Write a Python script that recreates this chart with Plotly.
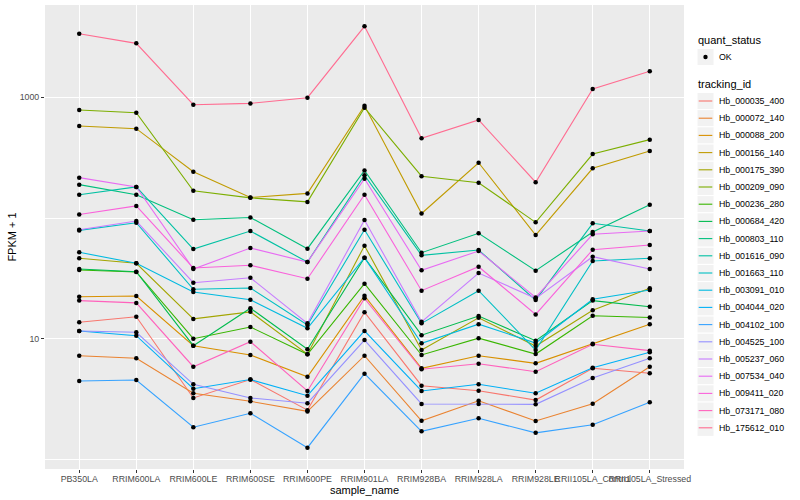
import plotly.graph_objects as go

samples = ["PB350LA", "RRIM600LA", "RRIM600LE", "RRIM600SE", "RRIM600PE", "RRIM901LA",
           "RRIM928BA", "RRIM928LA", "RRIM928LE", "RRII105LA_Control", "RRII105LA_Stressed"]

tracking_ids = ["Hb_000035_400", "Hb_000072_140", "Hb_000088_200", "Hb_000156_140", "Hb_000175_390",
                "Hb_000209_090", "Hb_000236_280", "Hb_000684_420", "Hb_000803_110", "Hb_001616_090",
                "Hb_001663_110", "Hb_003091_010", "Hb_004044_020", "Hb_004102_100", "Hb_004525_100",
                "Hb_005237_060", "Hb_007534_040", "Hb_009411_020", "Hb_073171_080", "Hb_175612_010"]

colors = ["#F8766D", "#EA8331", "#D89000", "#C09B00", "#A3A500", "#7CAE00", "#39B600", "#00BB4E",
          "#00BF7D", "#00C1A3", "#00BFC4", "#00BAE0", "#00B0F6", "#35A2FF", "#9590FF", "#C77CFF",
          "#E76BF3", "#FA62DB", "#FF62BC", "#FF6C91"]

# FPKM + 1 per sample
hb_000035_400 = [13.7, 15.2, 3.23, 4.59, 2.56, 16.6, 4.08, 3.71, 3.10, 5.69, 5.17]
hb_000072_140 = [7.23, 6.88, 3.53, 3.03, 2.50, 7.23, 2.09, 3.06, 2.08, 2.89, 5.86]
hb_000088_200 = [22.3, 22.6, 8.75, 7.33, 4.84, 22.7, 5.69, 7.23, 6.25, 9.09, 13.2]
hb_000156_140 = [578, 550, 242, 148, 160, 851, 109, 287, 72.3, 258, 359]
hb_000175_390 = [46.4, 42.2, 14.6, 16.7, 7.43, 59.0, 8.06, 14.9, 8.70, 17.2, 26.2]
hb_000209_090 = [785, 745, 168, 147, 136, 820, 222, 196, 92.1, 339, 446]
hb_000236_280 = [37.1, 35.7, 10.0, 12.5, 7.43, 28.6, 7.33, 10.1, 7.46, 15.5, 15.0]
hb_000684_420 = [37.8, 35.9, 8.75, 17.9, 8.17, 46.9, 10.7, 15.4, 9.62, 20.7, 18.4]
hb_000803_110 = [189, 156, 96.8, 101, 55.7, 248, 51.6, 74.7, 36.6, 76.6, 129]
hb_001616_090 = [156, 181, 55.3, 78.0, 43.2, 226, 49.1, 54.3, 20.9, 90.4, 78.0]
hb_001663_110 = [79.0, 91.4, 25.7, 26.3, 13.0, 80.0, 13.4, 25.0, 8.06, 44.0, 46.4]
hb_003091_010 = [52.0, 42.2, 24.4, 21.0, 12.2, 46.9, 9.16, 13.2, 9.21, 21.2, 25.3]
hb_004044_020 = [11.6, 10.6, 3.85, 4.59, 3.37, 11.6, 3.69, 4.19, 3.53, 5.75, 7.71]
hb_004102_100 = [4.46, 4.55, 1.85, 2.41, 1.25, 5.13, 1.71, 2.19, 1.66, 1.94, 2.97]
hb_004525_100 = [11.6, 11.3, 4.19, 3.23, 2.92, 9.75, 2.88, 2.88, 2.86, 4.72, 6.88]
hb_005237_060 = [80.0, 94.4, 29.1, 32.0, 13.4, 96.3, 13.8, 35.0, 21.6, 47.8, 37.8]
hb_007534_040 = [216, 181, 37.8, 56.4, 43.2, 212, 36.9, 53.3, 22.0, 73.3, 78.0]
hb_009411_020 = [107, 126, 38.5, 40.6, 31.4, 156, 25.0, 39.5, 15.9, 54.6, 59.7]
hb_073171_080 = [20.7, 19.8, 5.86, 9.44, 3.69, 21.6, 5.58, 6.21, 5.33, 8.99, 7.96]
hb_175612_010 = [3365, 2800, 869, 891, 993, 3873, 457, 649, 198, 1172, 1642]

series = [hb_000035_400, hb_000072_140, hb_000088_200, hb_000156_140, hb_000175_390,
          hb_000209_090, hb_000236_280, hb_000684_420, hb_000803_110, hb_001616_090,
          hb_001663_110, hb_003091_010, hb_004044_020, hb_004102_100, hb_004525_100,
          hb_005237_060, hb_007534_040, hb_009411_020, hb_073171_080, hb_175612_010]

quant_status = "OK"

FONT = "Liberation Sans, Arial, Helvetica, sans-serif"
W, H = 800, 500
ML, MR, MT, MB = 45, 116, 5, 31
PW, PH = W - ML - MR, H - MT - MB


def px(xpix):
    return (xpix - ML) / PW


def py(ypix):
    return (H - MB - ypix) / PH


fig = go.Figure()

for i, (tid, vals) in enumerate(zip(tracking_ids, series)):
    fig.add_trace(go.Scatter(
        x=samples, y=vals, mode="lines", name=tid,
        line=dict(color=colors[i], width=1.1),
        showlegend=False,
    ))

all_x = [s for vals in series for s in samples]
all_y = [v for vals in series for v in vals]
fig.add_trace(go.Scatter(
    x=all_x, y=all_y, mode="markers", name=quant_status,
    marker=dict(color="#000000", size=4.5, symbol="circle"),
    showlegend=False,
))

# ---- ggplot-style legends (drawn in paper space) ----
shapes = []
annotations = []
key_x0, key_x1 = 697, 714
text_x = 717
row_h = 17.2

# quant_status legend
annotations.append(dict(x=px(696), y=py(40), xref="paper", yref="paper", text="quant_status",
                        showarrow=False, xanchor="left", yanchor="middle",
                        font=dict(size=11, color="#000000")))
qy = 57
shapes.append(dict(type="rect", xref="paper", yref="paper", x0=px(key_x0), x1=px(key_x1),
                   y0=py(qy + row_h / 2), y1=py(qy - row_h / 2),
                   fillcolor="#F2F2F2", line=dict(color="#FFFFFF", width=1), layer="above"))
annotations.append(dict(x=px(text_x), y=py(qy), xref="paper", yref="paper", text=quant_status,
                        showarrow=False, xanchor="left", yanchor="middle",
                        font=dict(size=8.8, color="#000000")))

# tracking_id legend
annotations.append(dict(x=px(696), y=py(84), xref="paper", yref="paper", text="tracking_id",
                        showarrow=False, xanchor="left", yanchor="middle",
                        font=dict(size=11, color="#000000")))
for i, tid in enumerate(tracking_ids):
    yc = 101 + i * row_h
    shapes.append(dict(type="rect", xref="paper", yref="paper", x0=px(key_x0), x1=px(key_x1),
                       y0=py(yc + row_h / 2), y1=py(yc - row_h / 2),
                       fillcolor="#F2F2F2", line=dict(color="#FFFFFF", width=1), layer="above"))
    shapes.append(dict(type="line", xref="paper", yref="paper", x0=px(key_x0 + 1.7), x1=px(key_x1 - 1.7),
                       y0=py(yc), y1=py(yc), line=dict(color=colors[i], width=1.1), layer="above"))
    annotations.append(dict(x=px(text_x), y=py(yc), xref="paper", yref="paper", text=tid,
                            showarrow=False, xanchor="left", yanchor="middle",
                            font=dict(size=8.8, color="#000000")))

fig.update_layout(
    width=W, height=H,
    margin=dict(l=ML, r=MR, t=MT, b=MB, autoexpand=False),
    paper_bgcolor="#FFFFFF",
    plot_bgcolor="#EBEBEB",
    font=dict(family=FONT, size=8.8, color="#4D4D4D"),
    showlegend=False,
    shapes=shapes,
    annotations=annotations,
    xaxis=dict(
        type="category",
        categoryorder="array", categoryarray=samples,
        range=[-0.6, len(samples) - 0.4],
        showgrid=True, gridcolor="#FFFFFF", gridwidth=1.1,
        ticks="outside", ticklen=3, tickcolor="#333333", tickwidth=1,
        tickangle=0, ticklabelstandoff=-2,
        tickfont=dict(size=8.8, color="#4D4D4D"),
        title=dict(text="sample_name", font=dict(size=11, color="#000000"), standoff=2),
        zeroline=False, showline=False, automargin=False,
    ),
    yaxis=dict(
        type="log",
        range=[-0.0795, 3.765],
        tickmode="array", tickvals=[10, 1000], ticktext=["10", "1000"],
        showgrid=True, gridcolor="#FFFFFF", gridwidth=1.1,
        minor=dict(tickmode="array", tickvals=[1, 100, 10000], showgrid=True,
                   gridcolor="#FFFFFF", gridwidth=0.55, ticks=""),
        ticks="outside", ticklen=3, tickcolor="#333333", tickwidth=1,
        tickfont=dict(size=8.8, color="#4D4D4D"),
        title=dict(text="FPKM + 1", font=dict(size=11, color="#000000"), standoff=0),
        zeroline=False, showline=False, automargin=False,
    ),
)

# legend point symbol for quant_status key
fig.add_shape(type="circle", xref="paper", yref="paper",
              x0=px(705.5 - 2.2), x1=px(705.5 + 2.2), y0=py(qy + 2.2), y1=py(qy - 2.2),
              fillcolor="#000000", line=dict(color="#000000", width=0), layer="above")

fig.write_html("out.html", config={"displayModeBar": False},
               post_script="document.body.style.margin='0';")
